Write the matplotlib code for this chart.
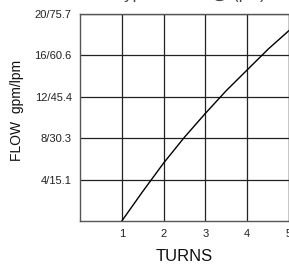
"""Flow vs turns chart, saved to out.png."""

import matplotlib
matplotlib.use('agg')
from matplotlib import pyplot

FIGURE_RESOLUTION_DPI = 100

TURN_VALUES = [1.0, 1.5, 2.0, 2.5, 3.0, 3.5, 4.0, 4.5, 5.0]
FLOW_VALUES_GPM = [0.0, 2.85, 5.6, 8.1, 10.4, 12.6, 14.6, 16.6, 18.4]

X_TICK_VALUES = [1, 2, 3, 4, 5]
Y_TICK_VALUES = [4, 8, 12, 16, 20]
Y_TICK_LABELS = ['4/15.1', '8/30.3', '12/45.4', '16/60.6', '20/75.7']

pyplot.rcParams['font.family'] = ['Liberation Sans', 'DejaVu Sans']

figure_object = pyplot.figure(figsize=(2.89, 2.66), dpi=FIGURE_RESOLUTION_DPI)
axes_object = figure_object.add_axes(
    [80. / 289, 45. / 266, 209. / 289, 207. / 266]
)

axes_object.plot(TURN_VALUES, FLOW_VALUES_GPM, color='black', linewidth=1.0,
                 clip_on=False)

axes_object.set_xlim(0, 5)
axes_object.set_ylim(0, 20)
axes_object.set_xticks(X_TICK_VALUES)
axes_object.set_yticks(Y_TICK_VALUES)
axes_object.set_yticklabels(Y_TICK_LABELS)
axes_object.tick_params(axis='both', length=0, labelsize=8, colors='#222222',
                        pad=6)
axes_object.grid(True, color='#222222', linewidth=0.9)

for spine_name in axes_object.spines:
    axes_object.spines[spine_name].set_color('#555555')
    axes_object.spines[spine_name].set_linewidth(1.0)

axes_object.set_xlabel('TURNS', fontsize=12, labelpad=7, color='#111111')
figure_object.text(17. / 289, 1 - 110. / 266, 'FLOW  gpm/lpm', rotation=90,
                   fontsize=10, ha='center', va='center', color='#111111')

# title is mostly cut off at the top of the original image
figure_object.text(190. / 289, 1 + 6. / 266, 'Typical Flow @ (psi)',
                   fontsize=12, ha='center', va='center', color='#444444')

figure_object.savefig('out.png', dpi=FIGURE_RESOLUTION_DPI)
pyplot.close(figure_object)
